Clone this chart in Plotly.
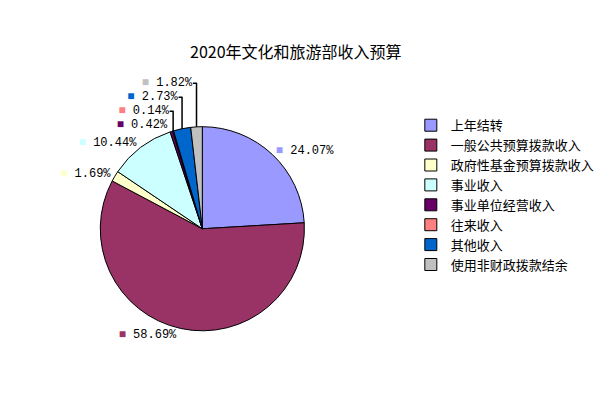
import plotly.graph_objects as go

categories = ["上年结转", "一般公共预算拨款收入", "政府性基金预算拨款收入", "事业收入",
              "事业单位经营收入", "往来收入", "其他收入", "使用非财政拨款结余"]
values = [24.07, 58.69, 1.69, 10.44, 0.42, 0.14, 2.73, 1.82]
colors = ["#9999FF", "#993366", "#FFFFCC", "#CCFFFF", "#660066", "#FF8080", "#0066CC", "#C0C0C0"]

texts = [f'<span style="color:{c}">■</span> {v:.2f}%' for c, v in zip(colors, values)]

fig = go.Figure(go.Pie(
    labels=categories, values=values, sort=False, direction="clockwise", rotation=0,
    marker=dict(colors=colors, line=dict(color="black", width=1)),
    text=texts, textinfo="text", textposition="outside",
    textfont=dict(family="Liberation Mono, DejaVu Sans Mono", size=12, color="black"),
    domain=dict(x=[0.15, 0.482], y=[0.195, 0.704]),
    hoverinfo="label+percent",
))
fig.update_layout(
    width=615, height=401, margin=dict(l=0, r=0, t=0, b=0),
    paper_bgcolor="white", plot_bgcolor="white",
    font=dict(family="Noto Sans CJK SC", color="black"),
    title=dict(text="2020年文化和旅游部收入预算", x=0.468, xanchor="center", y=0.89, yanchor="middle",
               font=dict(size=16, family="Noto Sans CJK SC", color="black")),
    legend=dict(x=0.655, y=0.745, xanchor="left", yanchor="top",
                font=dict(size=16, family="Noto Sans CJK SC"), tracegroupgap=0,
                itemwidth=30),
    showlegend=True,
)
fig.update_layout(legend_font_size=13)
fig.write_html("out.html")
